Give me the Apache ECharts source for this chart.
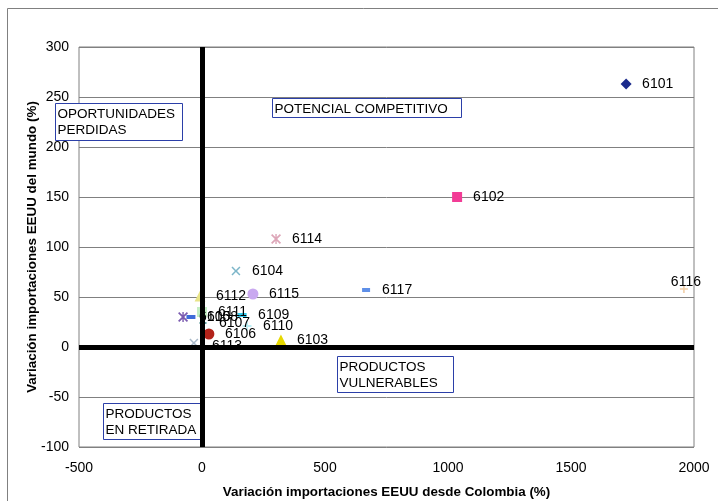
<!DOCTYPE html>
<html>
<head>
<meta charset="utf-8">
<script src="https://cdn.jsdelivr.net/npm/echarts@6/dist/echarts.min.js"></script>
<style>html,body{margin:0;padding:0;background:#fff;}#c{width:718px;height:501px;}</style>
</head>
<body>
<div id="c"></div>
<script>
const codes   = ['6101','6102','6103','6104','6105','6106','6107','6108','6109','6110','6111','6112','6113','6114','6115','6116','6117'];
const xValues = [1724, 1037, 321, 138, -77, 28, 4, -45, 163, 183, 0, -8, -33, 301, 207, 1959, 667];
const yValues = [263, 150, 7, 76, 30, 13, 24, 30, 32, 21, 35, 51, 4, 108, 53, 58, 57];
const xTicks = [-500, 0, 500, 1000, 1500, 2000];
const yTicks = [-100, -50, 0, 50, 100, 150, 200, 250, 300];
const xTitle = 'Variación importaciones EEUU desde Colombia (%)';
const yTitle = 'Variación importaciones EEUU del mundo (%)';
const quadrants = [
  {lines:['OPORTUNIDADES','PERDIDAS']},
  {lines:['POTENCIAL COMPETITIVO']},
  {lines:['PRODUCTOS','VULNERABLES']},
  {lines:['PRODUCTOS','EN RETIRADA']}
];

const FONT = '"Liberation Sans", Arial, sans-serif';
const X_PATH = 'path://M0,1.2 L1.2,0 L5,3.8 L8.8,0 L10,1.2 L6.2,5 L10,8.8 L8.8,10 L5,6.2 L1.2,10 L0,8.8 L3.8,5 Z';
const AST_PATH = 'path://M0,1.2 L1.2,0 L5,3.8 L8.8,0 L10,1.2 L6.2,5 L10,8.8 L8.8,10 L5,6.2 L1.2,10 L0,8.8 L3.8,5 Z M4.3,0 L5.7,0 L5.7,10 L4.3,10 Z';
const PLUS_PATH = 'path://M4,0 L6,0 L6,4 L10,4 L10,6 L6,6 L6,10 L4,10 L4,6 L0,6 L0,4 L4,4 Z';
const DASH_PATH = 'path://M0,0 L10,0 L10,4 L0,4 Z';

const styles = {
  '6101': {s:'diamond', z:11, c:'#1B2A8C'},
  '6102': {s:'rect', z:10, c:'#F23C96'},
  '6103': {s:'triangle', z:11, c:'#E6D800'},
  '6104': {s:X_PATH, z:9, c:'#7DB6C9'},
  '6105': {s:AST_PATH, z:10, c:'#7B5BB0'},
  '6106': {s:'circle', z:11, c:'#B3231A'},
  '6107': {s:PLUS_PATH, z:7, c:'#2F7F80'},
  '6108': {s:DASH_PATH, z:[9,4], c:'#3E6BD9'},
  '6109': {s:DASH_PATH, z:[9,4], c:'#33CCEE'},
  '6110': {s:PLUS_PATH, z:9, c:'#BDEFF5'},
  '6111': {s:'rect', z:10, c:'#C3EEC3'},
  '6112': {s:'triangle', z:11, c:'#E8E488'},
  '6113': {s:X_PATH, z:9, c:'#A8B8C8'},
  '6114': {s:AST_PATH, z:10, c:'#DDA6B8'},
  '6115': {s:'circle', z:11, c:'#C9A8F0'},
  '6116': {s:PLUS_PATH, z:8, c:'#F2CFA8'},
  '6117': {s:DASH_PATH, z:[8,4], c:'#5E8FE8'}
};

const series = [{
  type:'scatter', data:[], z:1, silent:true,
  markLine:{
    silent:true, symbol:'none', animation:false,
    label:{show:false},
    lineStyle:{color:'#000', width:5, type:'solid'},
    data:[{xAxis:0},{yAxis:0}]
  }
}];
codes.forEach((code,i)=>{
  const st = styles[code];
  const w = Array.isArray(st.z) ? st.z[0] : st.z;
  let lbl;
  if (code === '6116') {
    lbl = {show:true, position:'inside', offset:[2,-7], formatter:code, color:'#000', fontSize:14, fontFamily:FONT};
  } else {
    lbl = {show:true, position:'right', distance:16 - w/2, formatter:code, color:'#000', fontSize:14, fontFamily:FONT};
    if (code === '6113') lbl.offset = [2,3];
  }
  series.push({
    name:code, type:'scatter', z:3,
    symbol:st.s, symbolSize:st.z,
    itemStyle:{color:st.c, opacity:1},
    label:lbl,
    data:[[xValues[i], yValues[i]]]
  });
});

const boxes = [
  {x:55, y:103, w:127, h:37},
  {x:272, y:98, w:189, h:19},
  {x:337, y:356, w:116, h:36},
  {x:103, y:403, w:97, h:36}
];
const graphic = [
  {type:'rect', shape:{x:7.5,y:8.5,width:730,height:510}, style:{fill:'none', stroke:'#808080', lineWidth:1}, z:-10, silent:true}
];
boxes.forEach((b,i)=>{
  graphic.push({
    type:'group', left:b.x, top:b.y, z:20,
    children:[
      {type:'rect', shape:{x:0,y:0,width:b.w,height:b.h}, style:{fill:'#fff', stroke:'#2B3FA8', lineWidth:1}},
      {type:'text', left:2, top:3, style:{text:quadrants[i].lines.join('\n'), font:'13.5px '+FONT, fill:'#000', lineHeight:16}}
    ]
  });
});

const chart = echarts.init(document.getElementById('c'));
chart.setOption({
  animation:false,
  backgroundColor:'#fff',
  grid:{left:79, right:24, top:47, bottom:54, show:true, borderColor:'#808080', borderWidth:1, backgroundColor:'transparent', containLabel:false, outerBoundsMode:'none'},
  xAxis:{
    type:'value', min:xTicks[0], max:xTicks[xTicks.length-1], interval:500,
    name:xTitle, nameLocation:'middle', nameGap:39, nameMoveOverlap:false,
    nameTextStyle:{fontWeight:'bold', fontSize:13.4, fontFamily:FONT, color:'#000'},
    axisLine:{show:false}, axisTick:{show:false},
    axisLabel:{fontSize:14, fontFamily:FONT, color:'#000', margin:14, formatter:v=>String(v)},
    splitLine:{show:false}
  },
  yAxis:{
    type:'value', min:yTicks[0], max:yTicks[yTicks.length-1], interval:50,
    name:yTitle, nameLocation:'middle', nameGap:40, nameMoveOverlap:false,
    nameTextStyle:{fontWeight:'bold', fontSize:13.4, fontFamily:FONT, color:'#000'},
    axisLine:{show:false}, axisTick:{show:false},
    axisLabel:{fontSize:14, fontFamily:FONT, color:'#000', margin:10, formatter:v=>String(v)},
    splitLine:{show:true, lineStyle:{color:'#808080', width:1}}
  },
  graphic:graphic,
  series:series
});
</script>
</body>
</html>
